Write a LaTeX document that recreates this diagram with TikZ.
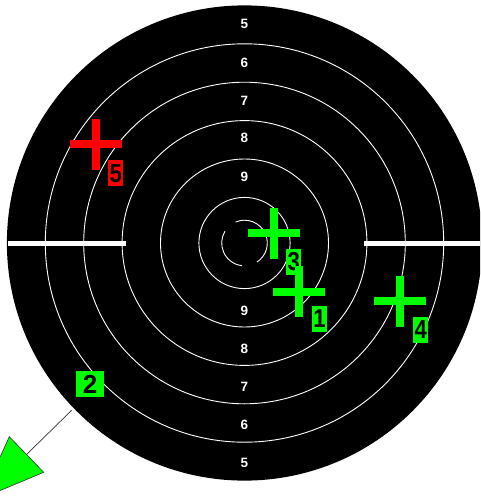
\documentclass[tikz,border=0pt]{standalone}
\usepackage{fontspec}
\setmainfont{Liberation Sans}
\definecolor{hitgreen}{RGB}{0,255,0}
\definecolor{hitred}{RGB}{255,0,0}
\begin{document}
\begin{tikzpicture}[x=1pt,y=-1pt,
  ring/.style={draw=white,line width=0.9pt},
  ringlab/.style={text=white,font=\fontsize{13.5}{13.5}\selectfont\bfseries,inner sep=0pt},
  shotlab/.style={text=black,font=\fontsize{26}{26}\selectfont\bfseries,inner sep=0pt,minimum width=15pt,minimum height=26pt,anchor=north west},
  crossbar/.style={fill=#1}
]
\useasboundingbox (0,0) rectangle (480,501);
\clip (0,0) rectangle (480,501);
\fill[white] (0,0) rectangle (480,501);
\coordinate (ctr) at (244.5,243);
\fill[black] (ctr) circle[radius=237.6];
\foreach \r in {45.6,84,122.4,160.8,199.2} \draw[ring] (ctr) circle[radius=\r];
% ring numbers
\node[ringlab] (t5) at (244.5,23.7) {5};
\node[ringlab] (t6) at (244.5,63.3) {6};
\node[ringlab] (t7) at (244.5,100.7) {7};
\node[ringlab] (t8) at (244.5,138.3) {8};
\node[ringlab] (t9) at (244.5,176.7) {9};
\node[ringlab] (b9) at (244.5,310.7) {9};
\node[ringlab] (b8) at (244.5,349.3) {8};
\node[ringlab] (b7) at (244.5,387.3) {7};
\node[ringlab] (b6) at (244.5,425) {6};
\node[ringlab] (b5) at (244.5,462.7) {5};
% white bars
\fill[white] (8,240.8) rectangle (125.5,245.8);
\fill[white] (364,240.8) rectangle (480,245.8);
% inner ten (broken circle)
\begin{scope}[shift={(ctr)}]
\draw[ring] (96:22.8) arc[start angle=96,end angle=211,radius=22.8];
\draw[ring] (247:22.8) arc[start angle=247,end angle=417,radius=22.8];
\end{scope}
% shot 3
\begin{scope}[shift={(273.5,233)}]
\fill[hitgreen] (-26,-4) rectangle (26,4);
\fill[hitgreen] (-4,-25.5) rectangle (4,25.5);
\end{scope}
\node[shotlab,fill=hitgreen] (s3) at (286,248.3) {\scalebox{0.85}[1]{3}};
% shot 1
\begin{scope}[shift={(298.7,291.7)}]
\fill[hitgreen] (-26,-4) rectangle (26,4);
\fill[hitgreen] (-4,-25.5) rectangle (4,25.5);
\end{scope}
\node[shotlab,fill=hitgreen] (s1) at (311.7,305.7) {\scalebox{0.85}[1]{1}};
% shot 4
\begin{scope}[shift={(399.7,301.3)}]
\fill[hitgreen] (-26,-4) rectangle (26,4);
\fill[hitgreen] (-4,-25.5) rectangle (4,25.5);
\end{scope}
\node[shotlab,fill=hitgreen] (s4) at (413,316.7) {\scalebox{0.85}[1]{4}};
% shot 5
\begin{scope}[shift={(96.2,144.3)}]
\fill[hitred] (-26,-4) rectangle (26,4);
\fill[hitred] (-4,-25.5) rectangle (4,25.5);
\end{scope}
\node[shotlab,fill=hitred] (s5) at (108,160) {\scalebox{0.85}[1]{5}};
% shot 2 (off target)
\node[shotlab,fill=hitgreen,minimum width=28pt,anchor=center] (s2) at (90,384) {2};
\coordinate (o2a) at (72,410);
\coordinate (o2b) at (26.5,454.5);
\draw[black!80,line width=0.7pt] (o2a) -- (o2b);
\filldraw[fill=hitgreen,draw=black!80,line width=0.6pt] (43.7,472.3) -- (-18.7,498.4) -- (9.3,436.7) -- cycle;
\end{tikzpicture}
\end{document}
